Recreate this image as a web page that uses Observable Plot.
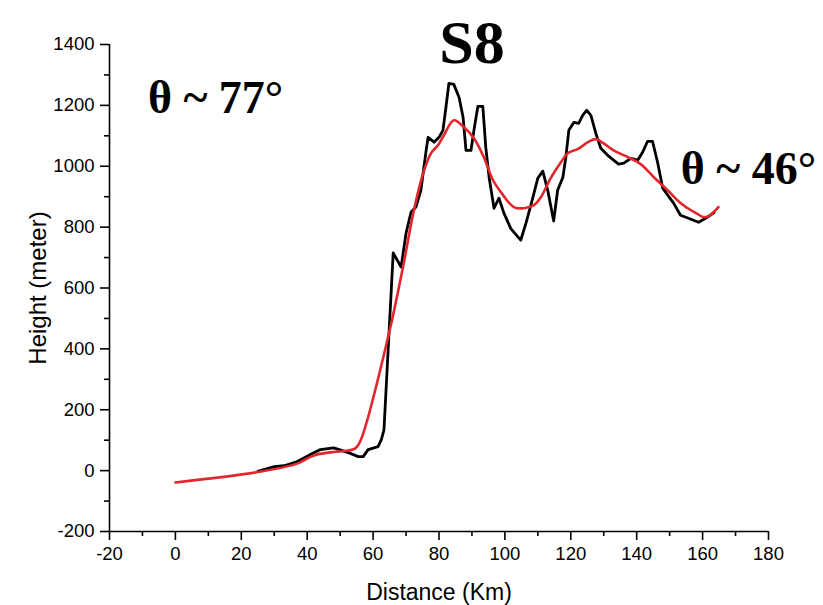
<!DOCTYPE html>
<html>
<head>
<meta charset="utf-8">
<script src="https://cdn.jsdelivr.net/npm/d3@7"></script>
<script src="https://cdn.jsdelivr.net/npm/@observablehq/plot@0.6"></script>
<style>
  html, body { margin: 0; padding: 0; background: #fff; }
  #chart { width: 823px; height: 605px; }
</style>
</head>
<body>
<div id="chart"></div>
<script>
// Raw profile (black)
const rawDistance = [25, 30, 33, 37, 42, 44, 48, 49.5, 52.5, 55.5, 57, 58.5, 61.5, 62.5, 63.3, 66.1, 68.5, 70, 71.5, 73, 74.5, 76.1, 76.7, 78.5, 80, 81.2, 82.1, 83, 84.5, 86.1, 87.3, 88.2, 89.7, 90.6, 91.8, 93.3, 94.2, 95.2, 96.7, 98.2, 99.7, 101.8, 104.8, 106.4, 108.5, 110, 111.5, 113, 114.8, 116, 117.6, 118.5, 119.4, 120.9, 122.4, 123.6, 124.8, 126.1, 127.6, 129.1, 131.2, 134.5, 136.1, 138.2, 140.3, 141.8, 143.3, 144.8, 146.4, 147.9, 149.4, 151.2, 153.3, 155.5, 158.8, 161.5, 163.5];
const rawHeight = [-2, 13, 16, 30, 59, 69, 75, 70, 59, 46, 46, 69, 79, 102, 134, 715, 669, 780, 849, 866, 921, 1052, 1095, 1079, 1095, 1118, 1193, 1272, 1269, 1226, 1161, 1052, 1052, 1118, 1197, 1197, 1062, 964, 862, 895, 846, 795, 757, 813, 898, 961, 984, 921, 820, 921, 964, 1030, 1118, 1144, 1141, 1167, 1184, 1167, 1108, 1059, 1036, 1007, 1010, 1026, 1020, 1046, 1082, 1082, 1010, 928, 905, 879, 839, 830, 816, 833, 848];

// Smoothed profile (red)
const smoothDistance = [0, 26, 37, 42, 47, 54.5, 56.2, 64.8, 69, 72.4, 75.2, 77.6, 79.7, 81.5, 84.5, 87.6, 90.6, 93.6, 96.4, 98.8, 102.7, 105.8, 108.8, 110.9, 113.9, 117, 119.1, 122.1, 125.2, 127.6, 130, 133, 137.3, 141.2, 145.2, 149.4, 153.3, 155.5, 158, 160.3, 161.8, 164.8];
const smoothHeight = [-39, -3, 23, 50, 60, 72, 99, 450, 665, 856, 977, 1043, 1069, 1102, 1151, 1128, 1092, 1030, 954, 915, 866, 862, 872, 898, 961, 1013, 1043, 1056, 1079, 1089, 1075, 1052, 1030, 1007, 964, 921, 879, 862, 846, 833, 836, 866];

// Axes
const xMajorTicks = [-20, 0, 20, 40, 60, 80, 100, 120, 140, 160, 180];
const xMinorTicks = [-10, 10, 30, 50, 70, 90, 110, 130, 150, 170];
const yMajorTicks = [-200, 0, 200, 400, 600, 800, 1000, 1200, 1400];
const yMinorTicks = [-100, 100, 300, 500, 700, 900, 1100, 1300];

// Texts
const titleText = "S8";
const xLabel = "Distance (Km)";
const yLabel = "Height (meter)";
const annotationText = ["θ ~ 77°", "θ ~ 46°"];
const annotationX = [12.2, 173.9];
const annotationY = [1176, 943];

const raw = rawDistance.map((d, i) => ({d, h: rawHeight[i]}));
const smooth = smoothDistance.map((d, i) => ({d, h: smoothHeight[i]}));
const annotations = annotationText.map((t, i) => ({t, x: annotationX[i], y: annotationY[i]}));

const sans = "'Liberation Sans', Arial, sans-serif";
const serif = "'Liberation Serif', 'Times New Roman', serif";

const chart = Plot.plot({
  width: 823,
  height: 605,
  marginLeft: 109,
  marginRight: 55,
  marginTop: 44,
  marginBottom: 74,
  style: {fontFamily: sans, background: "#fff", color: "#000"},
  x: {domain: [-20, 180]},
  y: {domain: [-200, 1400]},
  marks: [
    Plot.axisX({ticks: xMajorTicks, tickSize: 9, tickPadding: 6, fontSize: 18.5, tickFormat: d => String(d), label: null, strokeWidth: 1.6}),
    Plot.axisX({ticks: xMinorTicks, tickSize: 5, text: null, label: null, strokeWidth: 1.6}),
    Plot.axisY({ticks: yMajorTicks, tickSize: 9, tickPadding: 6, fontSize: 18.5, tickFormat: d => String(d), label: null, strokeWidth: 1.6}),
    Plot.axisY({ticks: yMinorTicks, tickSize: 5, text: null, label: null, strokeWidth: 1.6}),
    Plot.ruleX([-20], {y1: -200, y2: 1400, stroke: "#000", strokeWidth: 1.6}),
    Plot.ruleY([-200], {x1: -20, x2: 180, stroke: "#000", strokeWidth: 1.6}),
    Plot.line(raw, {x: "d", y: "h", stroke: "#000", strokeWidth: 2.8, curve: "linear", strokeLinejoin: "round"}),
    Plot.line(smooth, {x: "d", y: "h", stroke: "#e3262b", strokeWidth: 2.6, curve: "catmull-rom", strokeLinejoin: "round"}),
    Plot.text([xLabel], {frameAnchor: "bottom", dy: 61, textAnchor: "middle", lineAnchor: "middle", fontSize: 23, fill: "#000"}),
    Plot.text([yLabel], {frameAnchor: "left", dx: -71, rotate: -90, textAnchor: "middle", lineAnchor: "middle", fontSize: 24, fill: "#000"}),
    Plot.text([titleText], {frameAnchor: "top", dx: 33, dy: 18, lineAnchor: "bottom", fontSize: 62, fontWeight: "bold", fontFamily: serif, fill: "#000"}),
    Plot.text(annotations, {x: "x", y: "y", text: "t", lineAnchor: "bottom", fontSize: 46, fontWeight: "bold", fontFamily: serif, fill: "#000"})
  ]
});
document.getElementById("chart").appendChild(chart);
</script>
</body>
</html>
